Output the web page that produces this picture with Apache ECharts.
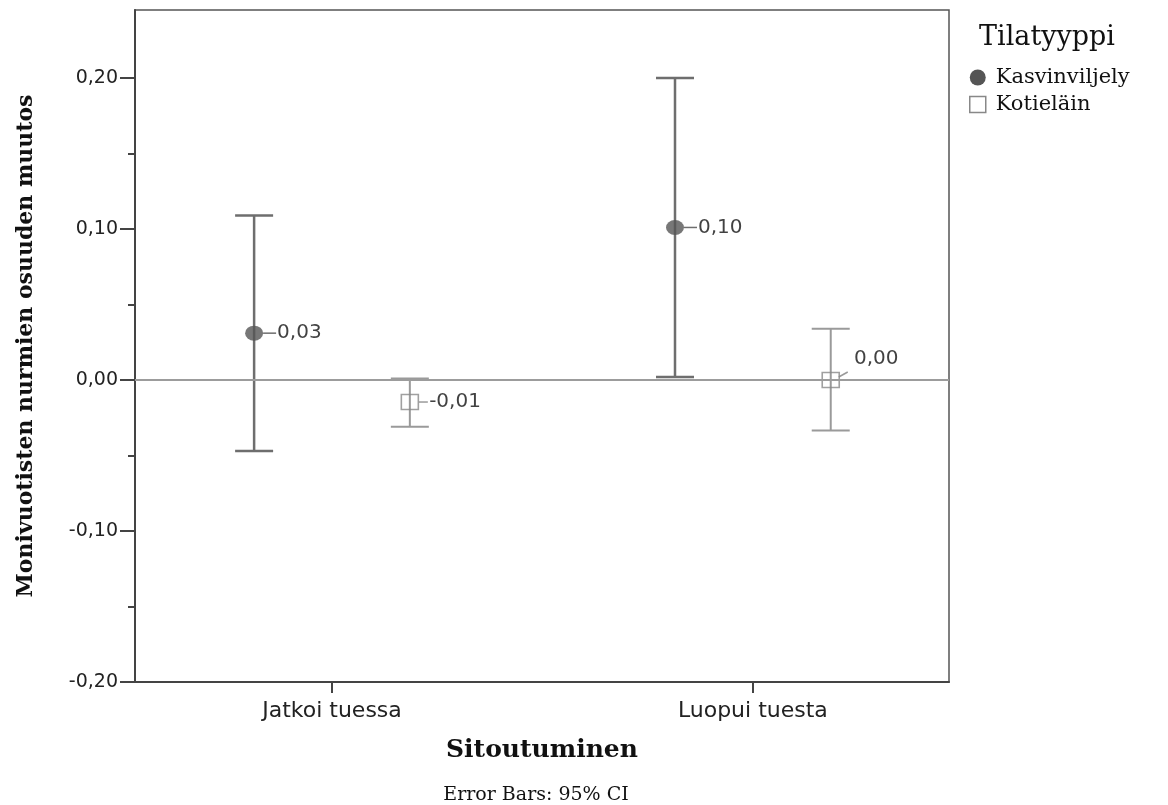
<!DOCTYPE html>
<html>
<head>
<meta charset="utf-8">
<script src="https://cdn.jsdelivr.net/npm/echarts@6/dist/echarts.min.js"></script>
<style>
  html, body { margin: 0; padding: 0; background: #fff; }
  #chart { width: 1168px; height: 805px; }
</style>
</head>
<body>
<div id="chart"></div>
<script>
var categories = ['Jatkoi tuessa', 'Luopui tuesta'];
var groups = ['Kasvinviljely', 'Kotieläin'];

// means and 95% CI bounds
var kasvMean = [0.031, 0.101];
var kasvLow = [-0.047, 0.002];
var kasvHigh = [0.109, 0.200];

var kotiMean = [-0.0146, 0.000];
var kotiLow = [-0.031, -0.0335];
var kotiHigh = [0.001, 0.034];

var yTicks = [-0.2, -0.1, 0, 0.1, 0.2];
var yMinorTicks = [-0.15, -0.05, 0.05, 0.15];

var dom = document.getElementById('chart');
var myChart = echarts.init(dom, null, { renderer: 'canvas' });

var groupOffset = 0.185;
var sansFont = '"DejaVu Sans", sans-serif';
var serifFont = '"DejaVu Serif", serif';

function fmt(v) {
  return v.toFixed(2).replace('.', ',');
}

function barData(mean, low, high, side) {
  return mean.map(function (m, i) {
    return [i + 1 + side * groupOffset, m, low[i], high[i]];
  });
}

// label offsets per point (only 0,00 sits above right)
var kotiLabelOffset = [[0, 0], [4, -21]];

function makeBars(name, data, color, width, leaderEnd, offsets) {
  return {
    name: name,
    type: 'custom',
    z: 2,
    data: data,
    renderItem: function (params, api) {
      var x = api.value(0);
      var pm = api.coord([x, api.value(1)]);
      var pl = api.coord([x, api.value(2)]);
      var ph = api.coord([x, api.value(3)]);
      var cap = 19;
      var st = { stroke: color, lineWidth: width };
      var off = offsets ? offsets[params.dataIndex] : [0, 0];
      var leader;
      if (off[1] !== 0) {
        leader = { x1: pm[0] + 8, y1: pm[1] - 3, x2: pm[0] + 17, y2: pm[1] - 8 };
      } else {
        leader = { x1: pm[0] + 9, y1: pm[1], x2: pm[0] + leaderEnd, y2: pm[1] };
      }
      return {
        type: 'group',
        children: [
          { type: 'line', shape: { x1: pl[0], y1: pl[1], x2: ph[0], y2: ph[1] }, style: st },
          { type: 'line', shape: { x1: pl[0] - cap, y1: pl[1], x2: pl[0] + cap, y2: pl[1] }, style: st },
          { type: 'line', shape: { x1: ph[0] - cap, y1: ph[1], x2: ph[0] + cap, y2: ph[1] }, style: st },
          { type: 'line', shape: leader, style: { stroke: color, lineWidth: 1.5 } }
        ]
      };
    }
  };
}

function makePoints(name, mean, side, symbol, size, itemStyle, labelDist, offsets) {
  return {
    name: name,
    type: 'scatter',
    z: 3,
    symbol: symbol,
    symbolSize: size,
    itemStyle: itemStyle,
    data: mean.map(function (m, i) {
      var item = { value: [i + 1 + side * groupOffset, m] };
      if (offsets) {
        item.label = { offset: offsets[i] };
      }
      return item;
    }),
    label: {
      show: true,
      position: 'right',
      distance: labelDist,
      color: '#111',
      fontFamily: sansFont,
      fontSize: 20,
      formatter: function (p) { return fmt(p.value[1]); }
    }
  };
}

var kasvBars = makeBars(groups[0], barData(kasvMean, kasvLow, kasvHigh, -1), '#6e6e6e', 2.5, 22, null);
kasvBars.markLine = {
  silent: true,
  symbol: 'none',
  label: { show: false },
  lineStyle: { color: '#9c9c9c', width: 2, type: 'solid' },
  data: [{ yAxis: 0 }]
};
kasvBars.z = 1;

var option = {
  backgroundColor: '#fff',
  animation: false,
  title: [
    {
      text: 'Tilatyyppi',
      left: 974,
      top: 19,
      textStyle: { fontFamily: serifFont, fontSize: 27, fontWeight: 'normal', color: '#111' }
    },
    {
      text: 'Error Bars: 95% CI',
      left: 531,
      top: 781,
      textAlign: 'center',
      textStyle: { fontFamily: serifFont, fontSize: 19, fontWeight: 'normal', color: '#111' }
    }
  ],
  legend: {
    orient: 'vertical',
    left: 964,
    top: 62,
    itemWidth: 16,
    itemHeight: 16,
    itemGap: 6,
    textStyle: { fontFamily: serifFont, fontSize: 21, color: '#111', padding: [0, 0, 0, 5] },
    data: [
      { name: groups[0], icon: 'circle', itemStyle: { color: '#555', borderWidth: 0 } },
      { name: groups[1], icon: 'rect', itemStyle: { color: '#fff', borderColor: '#888', borderWidth: 1.5 } }
    ]
  },
  grid: {
    left: 135,
    right: 219,
    top: 10,
    bottom: 123,
    show: true,
    borderColor: '#555',
    borderWidth: 1.5,
    backgroundColor: 'transparent'
  },
  xAxis: {
    type: 'value',
    min: 0.532,
    max: 2.466,
    name: 'Sitoutuminen',
    nameLocation: 'middle',
    nameGap: 56,
    nameTextStyle: { fontFamily: serifFont, fontSize: 25, fontWeight: 'bold', color: '#111' },
    axisLine: { show: true, onZero: false, lineStyle: { color: '#444', width: 2 } },
    axisTick: { show: true, length: 11, customValues: [1, 2], lineStyle: { color: '#444', width: 2 } },
    axisLabel: {
      customValues: [1, 2],
      margin: 18,
      fontFamily: sansFont,
      fontSize: 22,
      color: '#222',
      formatter: function (v) { return categories[Math.round(v) - 1]; }
    },
    splitLine: { show: false }
  },
  yAxis: [
    {
      type: 'value',
      min: -0.2,
      max: 0.245,
      name: 'Monivuotisten nurmien osuuden muutos',
      nameLocation: 'middle',
      nameRotate: 90,
      nameGap: 98,
      nameTextStyle: { fontFamily: serifFont, fontSize: 22, fontWeight: 'bold', color: '#111' },
      axisLine: { show: true, onZero: false, lineStyle: { color: '#444', width: 2 } },
      axisTick: { show: true, length: 15, customValues: yTicks, lineStyle: { color: '#444', width: 2 } },
      axisLabel: {
        customValues: yTicks,
        margin: 17,
        fontFamily: sansFont,
        fontSize: 19,
        color: '#222',
        formatter: function (v) { return fmt(v); }
      },
      splitLine: { show: false }
    },
    {
      type: 'value',
      position: 'left',
      min: -0.2,
      max: 0.245,
      axisLine: { show: false, onZero: false },
      axisTick: { show: true, inside: false, length: 7, customValues: yMinorTicks, lineStyle: { color: '#444', width: 2 } },
      axisLabel: { show: false },
      splitLine: { show: false }
    }
  ],
  series: [
    kasvBars,
    makeBars(groups[1], barData(kotiMean, kotiLow, kotiHigh, 1), '#9a9a9a', 2, 18, kotiLabelOffset),
    makePoints(groups[0], kasvMean, -1, 'circle', [18, 15], { color: '#555' }, 14, null),
    makePoints(groups[1], kotiMean, 1, 'rect', [17, 15],
      { color: 'rgba(255,255,255,0)', borderColor: '#888', borderWidth: 1.5 }, 10, kotiLabelOffset)
  ]
};

myChart.setOption(option);
window.addEventListener('resize', myChart.resize);
</script>
</body>
</html>
